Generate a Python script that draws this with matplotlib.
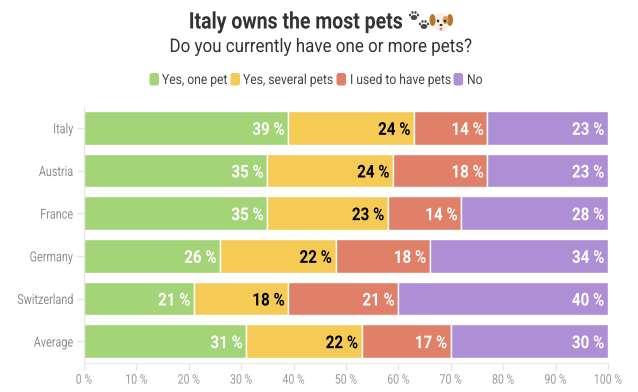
import matplotlib
matplotlib.use("Agg")
import matplotlib.pyplot as plt
from matplotlib.patches import Ellipse, FancyBboxPatch
from matplotlib.patheffects import AbstractPathEffect
from matplotlib.transforms import Affine2D

plt.rcParams['font.family'] = ['Roboto', 'DejaVu Sans']

countries = ["Italy", "Austria", "France", "Germany", "Switzerland", "Average"]
one_pet = [39, 35, 35, 26, 21, 31]
several_pets = [24, 24, 23, 22, 18, 22]
used_to = [14, 18, 14, 18, 21, 17]
no_pets = [23, 23, 28, 34, 40, 30]
series_names = ["Yes, one pet", "Yes, several pets", "I used to have pets", "No"]
series_values = [one_pet, several_pets, used_to, no_pets]
colors = ["#A3D477", "#F5CB56", "#E08068", "#AE8FD6"]
label_colors = ["white", "black", "white", "white"]
x_ticks = list(range(0, 101, 10))
title = "Italy owns the most pets"
subtitle = "Do you currently have one or more pets?"


class Condense(AbstractPathEffect):
    """Squeeze real text horizontally around a pixel anchor (stand-in for a condensed face)."""
    def __init__(self, sx, anchor):
        super().__init__()
        self.sx, self.anchor = sx, anchor

    def draw_path(self, renderer, gc, tpath, affine, rgbFace=None):
        squeeze = Affine2D().translate(-self.anchor, 0).scale(self.sx, 1).translate(self.anchor, 0)
        renderer.draw_path(gc, tpath, affine + squeeze, rgbFace)


W, H = 638, 392
fig = plt.figure(figsize=(W / 100, H / 100), dpi=100)
ax = fig.add_axes([84 / W, 1 - 362.5 / H, (608 - 84) / W, 256 / H])

bar_labels = []
lefts = [0] * len(countries)
for vals, col, lc in zip(series_values, colors, label_colors):
    ax.barh(countries, vals, left=lefts, height=0.79, color=col, edgecolor="white", linewidth=1)
    for i, v in enumerate(vals):
        bar_labels.append(ax.text(lefts[i] + v - 0.7, i, f"{v} %", ha="right", va="center_baseline",
                                  color=lc, fontsize=12.7, fontweight="bold"))
    lefts = [a + b for a, b in zip(lefts, vals)]

ax.set_xlim(0, 100)
ax.set_ylim(5.5, -0.5)
ax.set_xticks(x_ticks)
ax.set_xticklabels([f"{t} %" for t in x_ticks])
ax.tick_params(axis="x", colors="#E6E6E6", length=5, width=1, pad=3, labelcolor="#9A9A9A", labelsize=9.5)
ax.tick_params(axis="y", colors="#E6E6E6", length=5, width=1, pad=3, labelcolor="#8F8F8F", labelsize=10)
for s in ("top", "right"):
    ax.spines[s].set_visible(False)
for s in ("left", "bottom"):
    ax.spines[s].set_color("#E6E6E6")

for t in bar_labels:
    t.set_path_effects([Condense(0.86, ax.transData.transform(t.get_position())[0])])
for lab, tk in zip(ax.get_xticklabels(), x_ticks):
    lab.set_path_effects([Condense(0.8, ax.transData.transform((tk, 0))[0])])
for lab in ax.get_yticklabels():
    lab.set_path_effects([Condense(0.78, 84 - 10)])


def px(x, y):
    return x / W, 1 - y / H


def ftext(x, y, s, sx, ha, **kw):
    t = fig.text(*px(x, y), s, ha=ha, va="center", **kw)
    t.set_path_effects([Condense(sx, x)])


ftext(295.5, 22, title, 0.85, "center", fontsize=16.5, fontweight="bold", color="#333333")
ftext(321, 47, subtitle, 0.905, "center", fontsize=13.5, color="#333333")

# legend
swatch_x = [149, 230, 336, 453]
text_x = [162, 243, 350, 467]
for name, col, sx_, tx in zip(series_names, colors, swatch_x, text_x):
    fig.add_artist(FancyBboxPatch((sx_ + 0.5, H - 85.5), 9.5, 12.5, boxstyle="round,pad=0,rounding_size=2.5",
                                  transform=None, fc=col, ec="none"))
    ftext(tx, 80, name, 0.87, "left", fontsize=10, color="#444444")


# small paw and puppy drawing after the title
def ell(x, y, w, h, c):
    fig.add_artist(Ellipse((x, H - y), w, h, transform=None, fc=c, ec="none"))


for cx, cy in [(414, 16), (424, 25)]:
    ell(cx, cy + 1.5, 6.5, 5, "#4A4A4A")
    for dx, dy in [(-4, -1), (-1.5, -3.5), (1.5, -3.5), (4, -1)]:
        ell(cx + dx, cy + dy, 2.3, 2.8, "#4A4A4A")
ell(441, 22, 18, 18, "#F6EFE6")
ell(432.5, 20, 6, 12, "#B5762E")
ell(450, 20, 6, 12, "#B5762E")
ell(445.5, 20, 6, 8, "#D9A15B")
ell(438, 21, 2.4, 2.8, "#3A2A20")
ell(445, 21, 2.4, 2.8, "#3A2A20")
ell(441, 25, 3, 2.2, "#3A2A20")
ell(441, 29, 3, 3, "#E77B8A")

fig.savefig("out.png", dpi=100)
